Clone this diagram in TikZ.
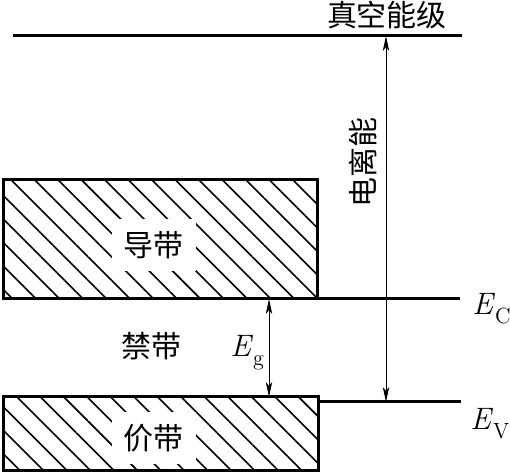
\documentclass[tikz,border=0pt]{standalone}
\usepackage{fontspec}
\newfontfamily\cjk{Noto Sans CJK SC}
\usetikzlibrary{arrows.meta,patterns.meta}
\newcommand{\bandsym}[2]{\textit{#1}\raisebox{-0.28em}{\fontsize{11}{13}\selectfont #2}}

\begin{document}
\begin{tikzpicture}[x=0.5pt,y=-0.5pt,
  level/.style={line width=1.5pt},
  band/.style={draw,line width=1.5pt,anchor=north west,inner sep=0pt,outer sep=0pt,
    pattern={Lines[angle=-45,distance=8.3pt,line width=0.8pt]}},
  zh/.style={font=\cjk\fontsize{15}{18}\selectfont},
  tag/.style={zh,fill=white,inner sep=6pt},
  sym/.style={font=\fontsize{15.5}{18}\selectfont,inner sep=0pt,anchor=base west},
  dim/.style={line width=0.5pt,{Stealth[length=7.5pt,width=3.2pt,inset=2pt]}-{Stealth[length=7.5pt,width=3.2pt,inset=2pt]}}]
  \useasboundingbox (0,0) rectangle (510,474);
  % bands
  \node[band,minimum width=157pt,minimum height=59.5pt] (cb) at (3,180) {};
  \node[band,minimum width=157.5pt,minimum height=37pt] (vb) at (3,397) {};
  \node[tag] (cbt) at (154,245) {导带};
  \node[tag] (vbt) at (154,438) {价带};
  \node[zh] (gap) at (151,346) {禁带};
  % levels
  \coordinate (vl) at (13,36);
  \coordinate (vr) at (462,36);
  \coordinate (ecr) at (460,299);
  \coordinate (evl) at (318,402);
  \coordinate (evr) at (461,402);
  \draw[level] (vl) -- (vr);
  \draw[level] (cb.south east) -- (ecr);
  \draw[level] (evl) -- (evr);
  \node[zh] (vac) at (387,15) {真空能级};
  \node[sym] (ec) at (472,315) {\bandsym{E}{C}};
  \node[sym] (ev) at (470,430) {\bandsym{E}{V}};
  % arrows
  \coordinate (gt) at (269,299);
  \coordinate (gb) at (269,397);
  \coordinate (it) at (386,36);
  \coordinate (ib) at (386,402);
  \draw[dim] (gt) -- (gb);
  \draw[dim] (it) -- (ib);
  \node[sym] (eg) at (230,357) {\bandsym{E}{g}};
  \node[zh,rotate=90] (ion) at (363,163) {电离能};
\end{tikzpicture}
\end{document}
